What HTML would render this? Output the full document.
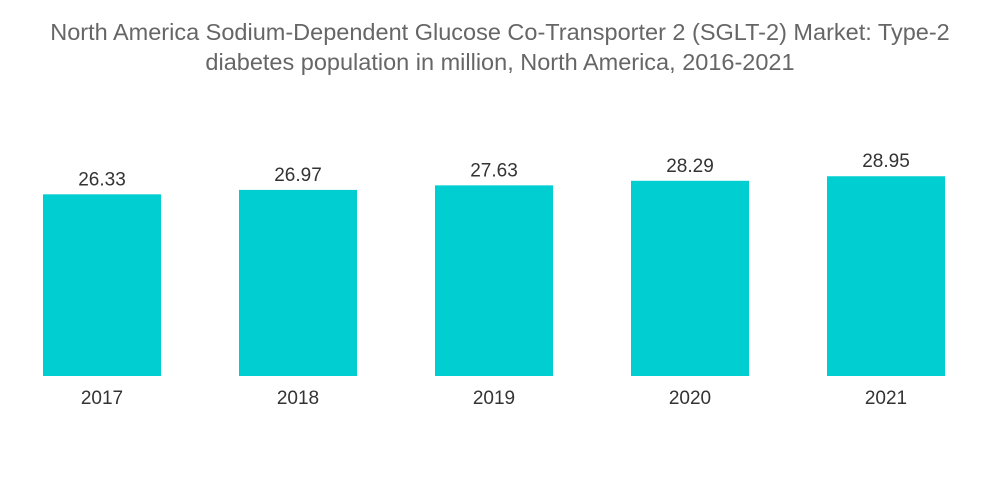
<!DOCTYPE html>
<html><head><meta charset="utf-8"><style>
body{margin:0;background:#fff;width:1000px;height:504px;overflow:hidden;font-family:"Liberation Sans",sans-serif}
.title{position:absolute;left:0;width:1000px;top:17px;text-align:center;color:#666;font-size:23.5px;line-height:30px;white-space:nowrap}
</style></head><body>
<div class="title">North America Sodium-Dependent Glucose Co-Transporter 2 (SGLT-2) Market: Type-2<br>diabetes population in million, North America, 2016-2021</div>
<svg id="chart" width="1000" height="504" style="position:absolute;left:0;top:0"></svg>
<script>
const categories=["2017","2018","2019","2020","2021"];
const values=[26.33,26.97,27.63,28.29,28.95];
const valueLabels=["26.33","26.97","27.63","28.29","28.95"];
const svg=document.getElementById('chart');
const NS='http://www.w3.org/2000/svg';
const baseY=376, pxPerUnit=6.9, left=43, step=196, bw=118;
const x=i=>left+i*step;
const y=v=>baseY-v*pxPerUnit;
categories.forEach((c,i)=>{
  const r=document.createElementNS(NS,'rect');
  r.setAttribute('x',x(i));r.setAttribute('y',y(values[i]));
  r.setAttribute('width',bw);r.setAttribute('height',baseY-y(values[i]));
  r.setAttribute('fill','#00ced1');
  
  
  svg.appendChild(r);
  const t=document.createElementNS(NS,'text');
  t.setAttribute('x',x(i)+bw/2);t.setAttribute('y',y(values[i])-9);
  t.setAttribute('text-anchor','middle');t.setAttribute('font-size','19');t.setAttribute('fill','#333');
  t.textContent=valueLabels[i];
  
  
  svg.appendChild(t);
  const l=document.createElementNS(NS,'text');
  l.setAttribute('x',x(i)+bw/2);l.setAttribute('y',baseY+28);
  l.setAttribute('text-anchor','middle');l.setAttribute('font-size','19');l.setAttribute('fill','#333');
  l.textContent=c;
  
  
  svg.appendChild(l);
});
</script>
</body></html>
